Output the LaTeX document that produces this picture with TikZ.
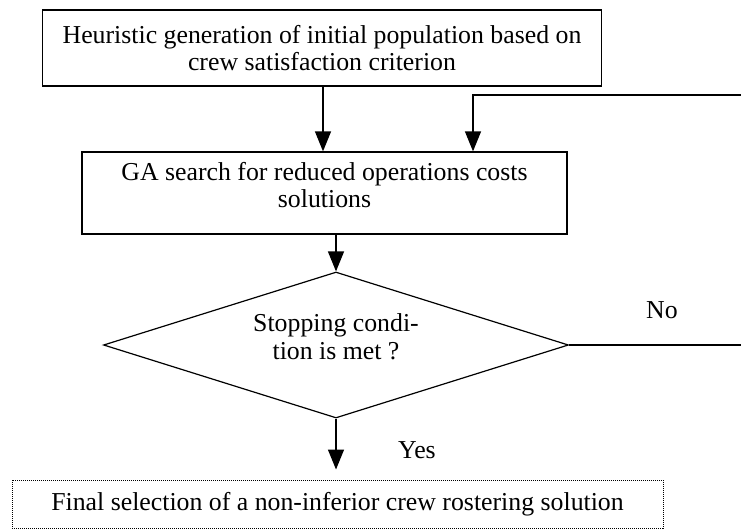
\documentclass[tikz,border=0pt]{standalone}
\usepackage{fontspec}
\setmainfont{Liberation Serif}
\usetikzlibrary{arrows.meta}
\usetikzlibrary{shapes.geometric}
\usetikzlibrary{calc}

\begin{document}
\begin{tikzpicture}[
			x=1pt, y=-1pt,
			every node/.style={font=\fontsize{25.8}{26.5}\selectfont, align=center, inner sep=0pt},
			stepbox/.style={rectangle, draw, line width=1.3pt},
			finalbox/.style={rectangle, draw, densely dotted, line width=1pt},
			test/.style={diamond, aspect=3.18, draw, line width=1.2pt},
			arr/.style={line width=1.3pt, -{Triangle[length=20pt, width=16pt]}},
			plain/.style={line width=1.3pt}
		]
		\useasboundingbox (0,0) rectangle (741,530);

		\node[stepbox, minimum width=559, minimum height=76] (init) at (322,48)
			{Heuristic generation of initial population based on\\crew satisfaction criterion};
		\node[stepbox, minimum width=485, minimum height=82, text depth=16pt] (ga) at (324.5,193)
			{GA search for reduced operations costs\\solutions};
		\node[test, minimum width=465, minimum height=146, text depth=17pt] (stop) at (336,345)
			{Stopping condi-\\[2pt]tion is met ?};
		\node[finalbox, minimum width=651, minimum height=48] (final) at (337.5,504)
			{Final selection of a non-inferior crew rostering solution};

		% loop back from the right edge
		\coordinate (ret) at (741,95);

		\draw[arr] (init.south -| 323,0) -- (ga.north -| 323,0);
		\draw[arr] (ret) -| (ga.north -| 473,0);
		\draw[arr] (ga.south -| stop.north) -- (stop.north);
		\draw[arr] (stop.south) -- ([yshift=10pt]stop.south |- final.north);
		\draw[plain] (stop.east) -- (stop.east -| ret);

		\node (no) at (662,310) {No};
		\node (yes) at (417,450) {Yes};
	\end{tikzpicture}
\end{document}
